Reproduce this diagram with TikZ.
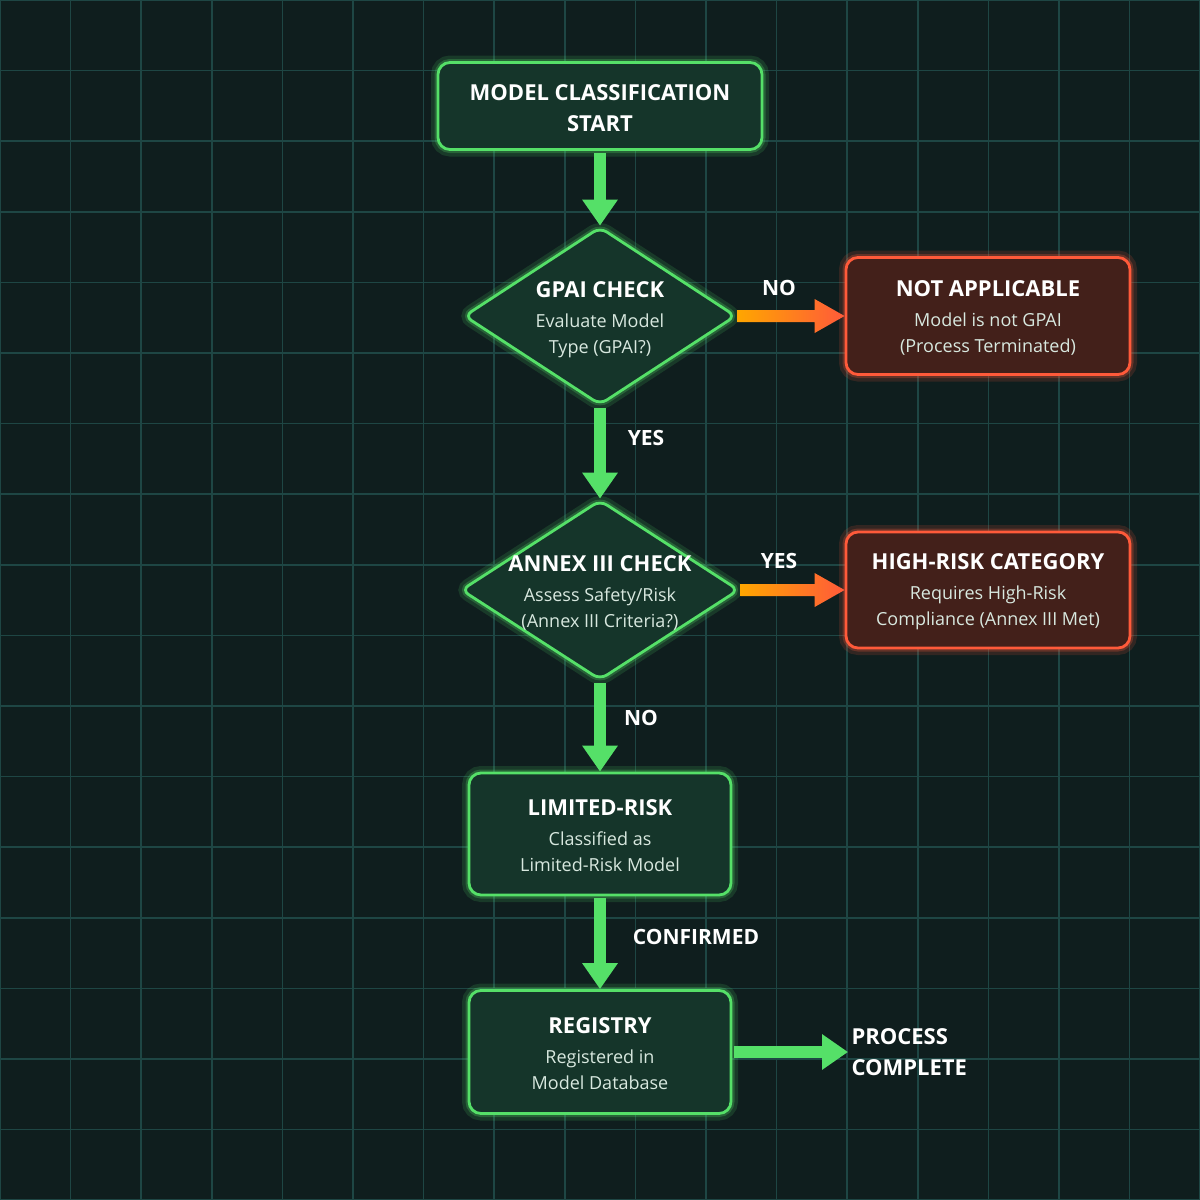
\documentclass[tikz,border=0pt]{standalone}
\usepackage{fontspec}
\setmainfont{Open Sans}
\usetikzlibrary{shapes.geometric,arrows.meta,calc}
\definecolor{bg}{HTML}{0F1E1E}
\definecolor{gridc}{HTML}{1E4644}
\definecolor{gline}{HTML}{55E068}
\definecolor{gfill}{HTML}{15352A}
\definecolor{rline}{HTML}{FF5A3A}
\definecolor{rfill}{HTML}{43201A}
\definecolor{sub}{HTML}{D8E8DF}
\newcommand\myttl{\bfseries\fontsize{22}{31}\selectfont\color{white}}
\newcommand\mytxt{\fontsize{18}{26}\selectfont\color{sub}}
\tikzset{
 gbox/.style={draw=gline,fill=gfill,line width=2.8pt,rounded corners=12pt,
   preaction={draw=gline,opacity=.15,line width=14pt},
   preaction={draw=gline,opacity=.25,line width=7pt}},
 rbox/.style={draw=rline,fill=rfill,line width=2.8pt,rounded corners=12pt,
   preaction={draw=rline,opacity=.15,line width=14pt},
   preaction={draw=rline,opacity=.25,line width=7pt}},
 ttl/.style={font=\myttl,text=white},
 body/.style={font=\mytxt,align=center},
 lab/.style={text=white,font=\bfseries\fontsize{21}{26}\selectfont},
 garrow/.style={draw=gline,line width=12pt,-{Triangle[length=26pt,width=34pt]}},
}
\begin{document}
\begin{tikzpicture}[x=1pt,y=-1pt]
\useasboundingbox (0,0) rectangle (1200,1200);
\fill[bg] (0,0) rectangle (1200,1200);
\foreach \i in {0,...,17}{
 \draw[gridc,line width=1.5pt] (\i*70.6,0) -- (\i*70.6,1200);
 \draw[gridc,line width=1.5pt] (0,\i*70.6) -- (1200,\i*70.6);}
% nodes
\node[gbox,minimum width=324pt,minimum height=87pt,inner sep=0] (start) at (600,106) {};
\node[ttl,align=center] (startt) at (600,108) {MODEL CLASSIFICATION\\START};
\node[gbox,diamond,rounded corners=8pt,minimum width=272pt,minimum height=178pt,inner sep=0] (gpai) at (600,316) {};
\node[body] (gpait) at (600,320) {{\myttl GPAI CHECK}\\[4pt]Evaluate Model\\Type (GPAI?)};
\node[rbox,minimum width=284pt,minimum height=117pt,inner sep=0] (na) at (988,316) {};
\node[body] (nat) at (988,318) {{\myttl NOT APPLICABLE}\\[4pt]Model is not GPAI\\(Process Terminated)};
\node[gbox,diamond,rounded corners=8pt,minimum width=278pt,minimum height=180pt,inner sep=0] (annex) at (600,590) {};
\node[body] (annext) at (600,593) {{\myttl ANNEX III CHECK}\\[4pt]Assess Safety/Risk\\(Annex III Criteria?)};
\node[rbox,minimum width=284pt,minimum height=116pt,inner sep=0] (hr) at (988,590) {};
\node[body] (hrt) at (988,592) {{\myttl HIGH-RISK CATEGORY}\\[4pt]Requires High-Risk\\Compliance (Annex III Met)};
\node[gbox,minimum width=262pt,minimum height=122pt,inner sep=0] (lim) at (600,834) {};
\node[body] (limt) at (600,836) {{\myttl LIMITED-RISK}\\[4pt]Classified as\\Limited-Risk Model};
\node[gbox,minimum width=262pt,minimum height=123pt,inner sep=0] (reg) at (600,1052) {};
\node[body] (regt) at (600,1054) {{\myttl REGISTRY}\\[4pt]Registered in\\Model Database};
\node[ttl,align=left,anchor=west] (done) at (848,1052) {PROCESS\\COMPLETE};
% arrows
\draw[garrow,shorten <=2pt] (start.south) -- (gpai.north);
\draw[garrow,shorten <=2pt] (gpai.south) -- (annex.north);
\draw[garrow,shorten <=2pt] (annex.south) -- (lim.north);
\draw[garrow,shorten <=2pt] (lim.south) -- (reg.north);
\draw[garrow,shorten <=2pt] (reg.east) -- (done.west);
\foreach \a/\b in {gpai/na,annex/hr}{
 \path[left color=orange!70!yellow,right color=rline]
  let \p1=(\a.east),\p2=(\b.west) in
  (\x1,\y1+6pt) -- (\x2-30pt,\y1+6pt) -- (\x2-30pt,\y1+17pt) -- (\x2,\y1) --
  (\x2-30pt,\y1-17pt) -- (\x2-30pt,\y1-6pt) -- (\x1,\y1-6pt) -- cycle;}
% labels
\node[lab] (l1) at (779,288) {NO};
\node[lab] (l2) at (646,438) {YES};
\node[lab] (l3) at (779,561) {YES};
\node[lab] (l4) at (641,718) {NO};
\node[lab] (l5) at (696,937) {CONFIRMED};
\end{tikzpicture}
\end{document}
